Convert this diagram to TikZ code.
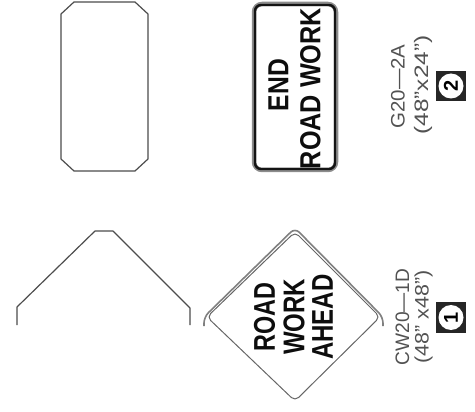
\documentclass[tikz,border=0pt]{standalone}
\usepackage{fontspec}
\setmainfont{Liberation Sans}
\newcommand{\sqz}[2]{\scalebox{#1}[1]{#2}}
\tikzset{
 outline/.style={draw=black!70,line width=1.2pt,line join=round},
 signtext/.style={rotate=90,inner sep=0pt,font=\fontsize{29}{29}\selectfont\bfseries,text=black!95},
 rwtext/.style={rotate=90,inner sep=0pt,font=\fontsize{30}{30}\selectfont\bfseries,text=black!95},
 cadtext/.style={rotate=90,inner sep=0pt,font=\fontsize{19.5}{19.5}\selectfont,text=black!68},
 badgebox/.style={fill=black!85,minimum size=30pt,inner sep=0pt},
 badgenum/.style={circle,fill=white,minimum size=25pt,inner sep=0pt,rotate=90,font=\fontsize{20}{20}\selectfont\bfseries,text=black}
}
\begin{document}
\begin{tikzpicture}[x=1pt,y=-1pt]
\useasboundingbox (0,0) rectangle (475,412);
% blank outlines
\draw[outline] (74,2) -- (135,2) -- (148,14) -- (148,159) -- (135,171) -- (74,171) -- (61,159) -- (61,14) -- cycle;
\draw[outline] (17,325) -- (17,307) -- (95,231) -- (113,231) -- (190,308) -- (190,325);
% END ROAD WORK
\draw[draw=black!45,line width=4.5pt,rounded corners=8pt] (254,4) rectangle (336,170);
\draw[draw=black!92,line width=2.4pt,rounded corners=6pt] (255,5) rectangle (335,169);
\node[signtext] (endt) at (278.5,85) {\sqz{.85}{END}};
\node[signtext] (rw) at (310.5,88.5) {\sqz{.87}{ROAD WORK}};
% Diamond
\draw[draw=black!60,line width=1pt,rounded corners=5pt] (295,232) -- (380,317) -- (295,401) -- (207,317) -- cycle;
\draw[draw=black!50,line width=1.6pt,rounded corners=6pt] (204,326) -- (204,317) -- (295,228) -- (383,317) -- (383,326);
\node[rwtext] (r1) at (264.5,317) {\sqz{.78}{ROAD}};
\node[rwtext] (r2) at (294,317) {\sqz{.8}{WORK}};
\node[rwtext] (r3) at (322.5,317) {\sqz{.8}{AHEAD}};
% Labels
\node[cadtext] (g1) at (398,86.5) {\sqz{1.05}{G20\textemdash 2A}};
\node[cadtext] (g2) at (423,85) {\sqz{1.25}{(48"x24")}};
\node[badgebox] (b2) at (451,86) {};
\node[badgenum] (n2) at (b2) {2};
\node[cadtext] (c1) at (402.5,317) {\sqz{.98}{CW20\textemdash 1D}};
\node[cadtext] (c2) at (423.5,317) {\sqz{1.1}{(48" x48")}};
\node[badgebox] (b1) at (451,317.5) {};
\node[badgenum] (n1) at (b1) {1};
\end{tikzpicture}
\end{document}
